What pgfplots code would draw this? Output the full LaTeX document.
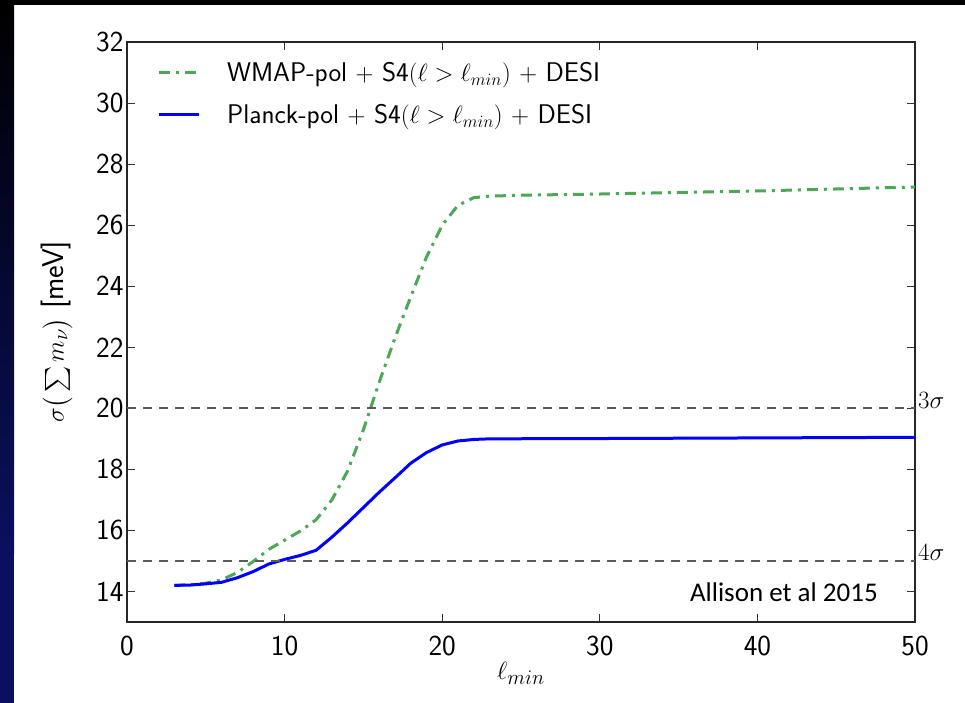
\documentclass[border=0pt]{standalone}
\usepackage{fontspec}
\usepackage{amsmath}
\usepackage{pgfplots}
\pgfplotsset{compat=1.18}
\newfontfamily\carlito{Carlito}
\definecolor{navy}{RGB}{10,16,95}
\definecolor{wgreen}{RGB}{76,168,84}
\definecolor{dgray}{RGB}{90,90,90}
\begin{document}
\begin{tikzpicture}
\useasboundingbox (0pt,0pt) rectangle (965pt,703pt);
\fill[white] (0pt,0pt) rectangle (965pt,703pt);
\fill[black] (0pt,698pt) rectangle (965pt,703pt);
\fill[navy] (0pt,0pt) rectangle (14pt,150pt);
\shade[top color=black, bottom color=navy] (0pt,149.5pt) rectangle (14pt,703pt);
\begin{axis}[
  at={(127pt,81pt)}, anchor=south west,
  scale only axis, width=788pt, height=580pt,
  xmin=0, xmax=50, ymin=13, ymax=32,
  xtick={0,10,20,30,40,50},
  ytick={14,16,18,20,22,24,26,28,30,32},
  clip=false,
  axis line style={line width=1.4pt, black!85},
  major tick length=8pt,
  tick style={line width=0.9pt, black!80},
  /pgf/number format/assume math mode=true,
  ticklabel style={font=\fontsize{29}{32}\sffamily},
  xticklabel style={yshift=-10pt},
  xlabel={$\ell_{min}$},
  xlabel style={font=\fontsize{30}{34}\selectfont, anchor=center, at={(axis description cs:0.5,-0.088)}},
  ylabel={$\sigma\big(\textstyle\sum m_\nu\big)$ \sffamily [meV]},
  ylabel style={font=\fontsize{30}{34}\selectfont, anchor=center, at={(axis description cs:-0.089,0.5)}},
  legend style={draw=none, fill=none, at={(axis cs:1.9,31.4)}, anchor=north west,
    inner sep=0pt, font=\fontsize{27}{30}\sffamily, row sep=17pt,
    /tikz/every odd column/.append style={column sep=25pt}},
  legend cell align=left,
  legend image code/.code={\draw[#1] (0pt,0pt) -- (40pt,0pt);},
]
\addplot[wgreen, line width=3pt, dash pattern=on 11pt off 6pt on 3pt off 6pt] coordinates {
(3,14.2)(4,14.22)(5,14.27)(6,14.38)(7,14.62)(8,14.98)(9,15.38)(10,15.68)(11,15.98)(12,16.35)(13,17.0)(14,17.95)(15,19.3)(16,20.85)(17,22.3)(18,23.65)(19,24.95)(20,26.0)(21,26.65)(22,26.9)(23,26.95)(25,26.98)(30,27.02)(40,27.12)(50,27.25)
};
\addlegendentry{WMAP-pol $+$ S4$(\ell > \ell_{min})$ $+$ DESI}
\addplot[blue, line width=3pt] coordinates {
(3,14.2)(4,14.21)(5,14.25)(6,14.3)(7,14.45)(8,14.65)(9,14.9)(10,15.05)(11,15.18)(12,15.35)(13,15.78)(14,16.25)(15,16.75)(16,17.25)(17,17.72)(18,18.2)(19,18.55)(20,18.8)(21,18.93)(22,18.98)(23,19.0)(30,19.01)(40,19.03)(50,19.05)
};
\addlegendentry{Planck-pol $+$ S4$(\ell > \ell_{min})$ $+$ DESI}
\addplot[dgray, line width=2pt, dash pattern=on 9pt off 7pt, forget plot] coordinates {(0,20)(50,20)};
\addplot[dgray, line width=2pt, dash pattern=on 9pt off 7pt, forget plot] coordinates {(0,15)(50,15)};
\node[anchor=base west, inner sep=0pt, xshift=3pt, font=\fontsize{28}{30}\selectfont] at (axis cs:50,20) {$3\sigma$};
\node[anchor=base west, inner sep=0pt, xshift=3pt, font=\fontsize{28}{30}\selectfont] at (axis cs:50,15) {$4\sigma$};
\node[anchor=east, inner sep=0pt, font=\fontsize{27}{30}\carlito] at (axis cs:47.65,13.97) {Allison et al 2015};
\end{axis}
\end{tikzpicture}
\end{document}
